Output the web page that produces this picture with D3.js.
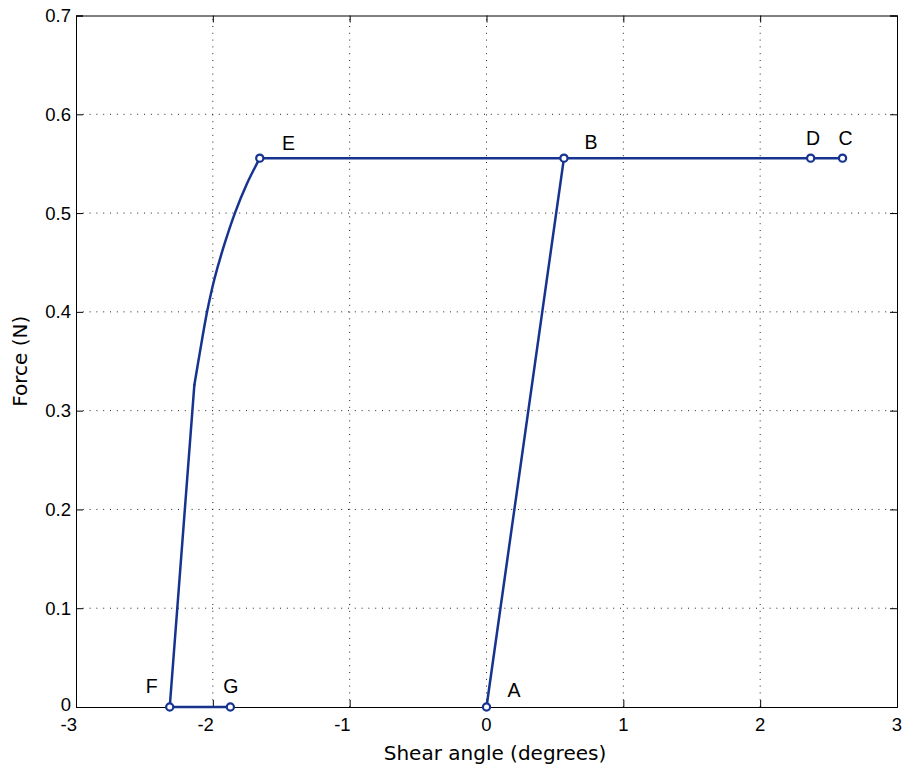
<!DOCTYPE html>
<html>
<head>
<meta charset="utf-8">
<script src="https://cdn.jsdelivr.net/npm/d3@7"></script>
<style>
  html, body { margin: 0; padding: 0; background: #fff; }
  svg { display: block; }
</style>
</head>
<body>
<svg id="chart" width="906" height="769"></svg>
<script>
// ---- data ----
const xTicks = [-3, -2, -1, 0, 1, 2, 3];
const yTicks = [0, 0.1, 0.2, 0.3, 0.4, 0.5, 0.6, 0.7];
const xTickLabels = ["-3", "-2", "-1", "0", "1", "2", "3"];
const yTickLabels = ["0", "0.1", "0.2", "0.3", "0.4", "0.5", "0.6", "0.7"];

// straight loading/sliding part A -> B -> C -> D -> E
const seg1X = [0, 0.566, 2.602, 2.369, -1.657];
const seg1Y = [0, 0.5556, 0.5556, 0.5556, 0.5556];
// curved unloading part E -> ... -> knee
const curveX = [-1.657, -1.750, -1.836, -1.914, -1.987, -2.042, -2.096, -2.135];
const curveY = [0.5556, 0.530, 0.501, 0.469, 0.434, 0.400, 0.358, 0.326];
// straight part knee -> F -> G
const seg2X = [-2.135, -2.315, -1.872];
const seg2Y = [0.326, 0, 0];

const pointNames = ["A", "B", "C", "D", "E", "F", "G"];
const pointX = [0, 0.566, 2.602, 2.369, -1.657, -2.315, -1.872];
const pointY = [0, 0.5556, 0.5556, 0.5556, 0.5556, 0, 0];

const xLabel = "Shear angle (degrees)";
const yLabel = "Force (N)";

// ---- layout ----
const svg = d3.select("#chart");
const L = 76, R = 897, T = 15.5, B = 707;
const x = d3.scaleLinear().domain([-3, 3]).range([L, R]);
const y = d3.scaleLinear().domain([0, 0.7]).range([B, T]);
const color = "#16338f";
const tickFont = "'Liberation Sans', Arial, Helvetica, sans-serif";

// grid
const grid = svg.append("g");
grid.selectAll("line.gx").data(xTicks.slice(1, -1)).enter().append("line")
  .attr("x1", d => x(d)).attr("x2", d => x(d)).attr("y1", B).attr("y2", T)
  .attr("stroke", "#222").attr("stroke-width", 1).attr("stroke-dasharray", "1,5.8");
grid.selectAll("line.gy").data(yTicks.slice(1, -1)).enter().append("line")
  .attr("y1", d => y(d)).attr("y2", d => y(d)).attr("x1", L).attr("x2", R)
  .attr("stroke", "#222").attr("stroke-width", 1).attr("stroke-dasharray", "1,5.8");

// axes with inward ticks
const tickLen = 7;
const axB = svg.append("g").attr("transform", `translate(0,${B})`)
  .call(d3.axisTop(x).tickValues(xTicks).tickSize(tickLen).tickFormat(""));
const axT = svg.append("g").attr("transform", `translate(0,${T})`)
  .call(d3.axisBottom(x).tickValues(xTicks).tickSize(tickLen).tickFormat(""));
const axL = svg.append("g").attr("transform", `translate(${L},0)`)
  .call(d3.axisRight(y).tickValues(yTicks).tickSize(tickLen).tickFormat(""));
const axR = svg.append("g").attr("transform", `translate(${R},0)`)
  .call(d3.axisLeft(y).tickValues(yTicks).tickSize(tickLen).tickFormat(""));
[axB, axT, axL, axR].forEach(a => {
  a.selectAll(".domain").attr("stroke", "#000").attr("stroke-width", 1);
  a.selectAll(".tick line").attr("stroke", "#000").attr("stroke-width", 1);
});

// tick labels
svg.append("g").selectAll("text").data(xTicks).enter().append("text")
  .attr("x", d => x(d) + (d < 0 ? 1 : 0))
  .attr("y", 731)
  .attr("text-anchor", d => d < 0 ? "end" : "middle")
  .attr("font-family", tickFont).attr("font-size", 18.5).attr("fill", "#000")
  .text((d, i) => xTickLabels[i]);
svg.append("g").selectAll("text").data(yTicks).enter().append("text")
  .attr("x", 71)
  .attr("y", d => y(d) + 6.5 - (d === 0 ? 3 : 0))
  .attr("text-anchor", "end")
  .attr("font-family", tickFont).attr("font-size", 18.5).attr("fill", "#000")
  .text((d, i) => yTickLabels[i]);

// axis titles
svg.append("text").attr("x", 495).attr("y", 760).attr("text-anchor", "middle")
  .attr("font-family", "'DejaVu Sans', sans-serif").attr("font-size", 20).attr("fill", "#000")
  .text(xLabel);
svg.append("text").attr("transform", `translate(26.5,${(T + B) / 2}) rotate(-90)`)
  .attr("text-anchor", "middle")
  .attr("font-family", "'DejaVu Sans', sans-serif").attr("font-size", 20).attr("fill", "#000")
  .text(yLabel);

// paths
const toPts = (xs, ys) => xs.map((v, i) => [v, ys[i]]);
const straight = d3.line().x(d => x(d[0])).y(d => y(d[1]));
const smooth = d3.line().x(d => x(d[0])).y(d => y(d[1])).curve(d3.curveCatmullRom.alpha(0.5));
const lineStyle = sel => sel.attr("fill", "none").attr("stroke", color).attr("stroke-width", 2.5)
  .attr("stroke-linejoin", "round").attr("stroke-linecap", "round");
svg.append("path").datum(toPts(seg1X, seg1Y)).attr("d", straight).call(lineStyle);
svg.append("path").datum(toPts(curveX, curveY)).attr("d", smooth).call(lineStyle);
svg.append("path").datum(toPts(seg2X, seg2Y)).attr("d", straight).call(lineStyle);

// markers
const pts2 = pointNames.map((n, i) => ({ n, x: pointX[i], y: pointY[i] }));
svg.append("g").selectAll("circle").data(pts2).enter().append("circle")
  .attr("cx", d => x(d.x)).attr("cy", d => y(d.y)).attr("r", 3.6)
  .attr("fill", "#fff").attr("stroke", color).attr("stroke-width", 2.2);

// point labels (pixel offsets from each marker)
const labelOffset = { A: [27.5, -17], B: [27, -16], C: [3, -20.5], D: [2.5, -20.5], E: [28.7, -15.5], F: [-18, -21.5], G: [0.5, -21.5] };
svg.append("g").selectAll("text").data(pts2).enter().append("text")
  .attr("x", d => x(d.x) + labelOffset[d.n][0])
  .attr("y", d => y(d.y) + labelOffset[d.n][1] + 7)
  .attr("text-anchor", "middle")
  .attr("font-family", tickFont).attr("font-size", 19.5).attr("fill", "#000")
  .text(d => d.n);
</script>
</body>
</html>
